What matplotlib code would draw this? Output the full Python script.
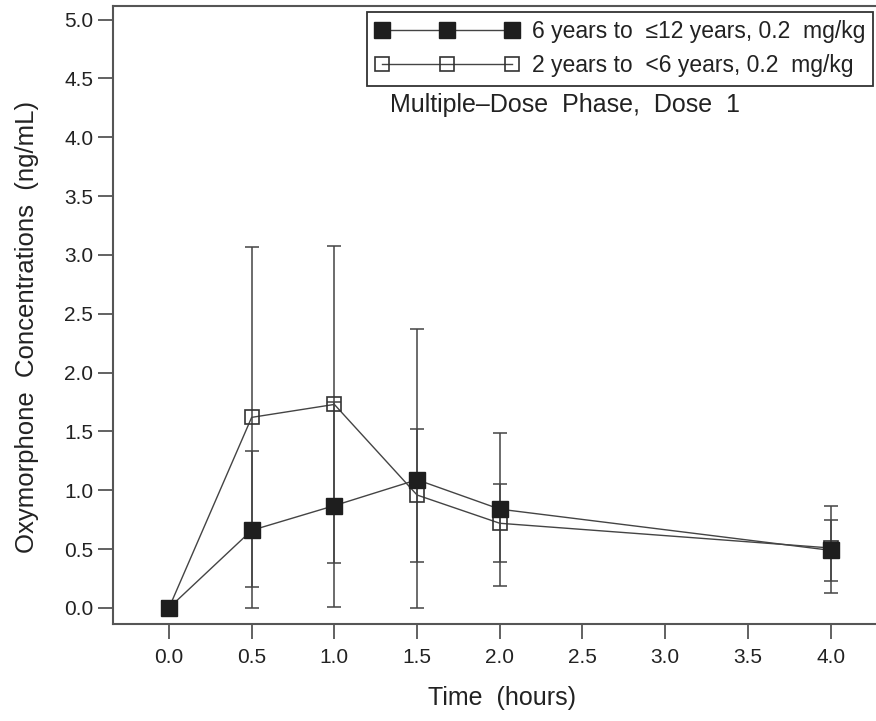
import matplotlib
matplotlib.use("Agg")
import matplotlib.pyplot as plt

# 시간 (hours)
times = [0.0, 0.5, 1.0, 1.5, 2.0, 4.0]

# 6 years to <=12 years, 0.2 mg/kg (filled squares)
older_mean = [0.0, 0.66, 0.87, 1.09, 0.84, 0.49]
older_lo = [0.0, 0.0, 0.01, 0.0, 0.19, 0.13]
older_hi = [0.0, 1.33, 1.75, 2.37, 1.49, 0.87]

# 2 years to <6 years, 0.2 mg/kg (open squares)
younger_mean = [0.0, 1.62, 1.73, 0.96, 0.72, 0.51]
younger_lo = [0.0, 0.18, 0.38, 0.39, 0.39, 0.23]
younger_hi = [0.0, 3.07, 3.08, 1.52, 1.05, 0.75]

older_label = "6 years to  \u226412 years, 0.2  mg/kg"
younger_label = "2 years to  <6 years, 0.2  mg/kg"

x_ticks = [0.0, 0.5, 1.0, 1.5, 2.0, 2.5, 3.0, 3.5, 4.0]
y_ticks = [0.0, 0.5, 1.0, 1.5, 2.0, 2.5, 3.0, 3.5, 4.0, 4.5, 5.0]

plt.rcParams['font.family'] = ['Liberation Sans', 'DejaVu Sans']

ink = '#222222'
line_col = '#444444'

fig = plt.figure(figsize=(8.76, 7.21), dpi=100)
# 오른쪽 테두리는 그림 밖으로 잘림
ax = fig.add_axes([112.7 / 876, 97 / 721, (891 - 112.7) / 876, 618 / 721])


def err(mean, lo, hi):
    return [[m - l for m, l in zip(mean, lo)], [h - m for m, h in zip(mean, hi)]]


# 에러바 먼저
ax.errorbar(times, younger_mean, yerr=err(younger_mean, younger_lo, younger_hi),
            fmt='none', ecolor=line_col, elinewidth=1.1, capsize=5, capthick=1.1, zorder=2)
ax.errorbar(times, older_mean, yerr=err(older_mean, older_lo, older_hi),
            fmt='none', ecolor=line_col, elinewidth=1.1, capsize=5, capthick=1.1, zorder=2)

# 선 + 마커
h2, = ax.plot(times, younger_mean, color=line_col, lw=1.0, marker='s', markersize=10.5,
              markerfacecolor='none', markeredgecolor='#333333', markeredgewidth=1.2,
              label=younger_label, zorder=3)
h1, = ax.plot(times, older_mean, color=line_col, lw=1.0, marker='s', markersize=11.5,
              markerfacecolor='#1e1e1e', markeredgecolor='#1e1e1e',
              label=older_label, zorder=4)

ax.set_xlim(-0.34, 4.365)
ax.set_ylim(-0.136, 5.116)
ax.set_xticks(x_ticks)
ax.set_xticklabels([f"{t:.1f}" for t in x_ticks])
ax.set_yticks(y_ticks)
ax.set_yticklabels([f"{t:.1f}" for t in y_ticks])

for s in ['left', 'bottom', 'top', 'right']:
    ax.spines[s].set_color('#555555')
    ax.spines[s].set_linewidth(1.5)

ax.tick_params(axis='both', direction='out', length=11, width=1.3, color='#555555',
               labelsize=15, labelcolor=ink)
ax.tick_params(axis='y', pad=3)
ax.tick_params(axis='x', pad=6)

ax.set_xlabel("Time  (hours)", fontsize=18, color=ink, labelpad=14)
ax.set_ylabel("Oxymorphone  Concentrations  (ng/mL)", fontsize=18.5, color=ink)
ax.yaxis.set_label_coords(-0.095, 0.48)

leg = ax.legend(handles=[h1, h2], loc='upper right',
                bbox_to_anchor=(873 / 876, (721 - 12) / 721), bbox_transform=fig.transFigure,
                borderaxespad=0, numpoints=3, handlelength=6.3, handletextpad=0.55,
                fontsize=16.5, fancybox=False, framealpha=1, edgecolor='#333333',
                borderpad=0.35, labelspacing=0.5)
leg.get_frame().set_linewidth(1.3)
for t in leg.get_texts():
    t.set_color(ink)

fig.text(565 / 876, 1 - 105 / 721, "Multiple\u2013Dose  Phase,  Dose  1",
         ha='center', va='center', fontsize=18, color=ink)

fig.savefig('out.png', dpi=100)
